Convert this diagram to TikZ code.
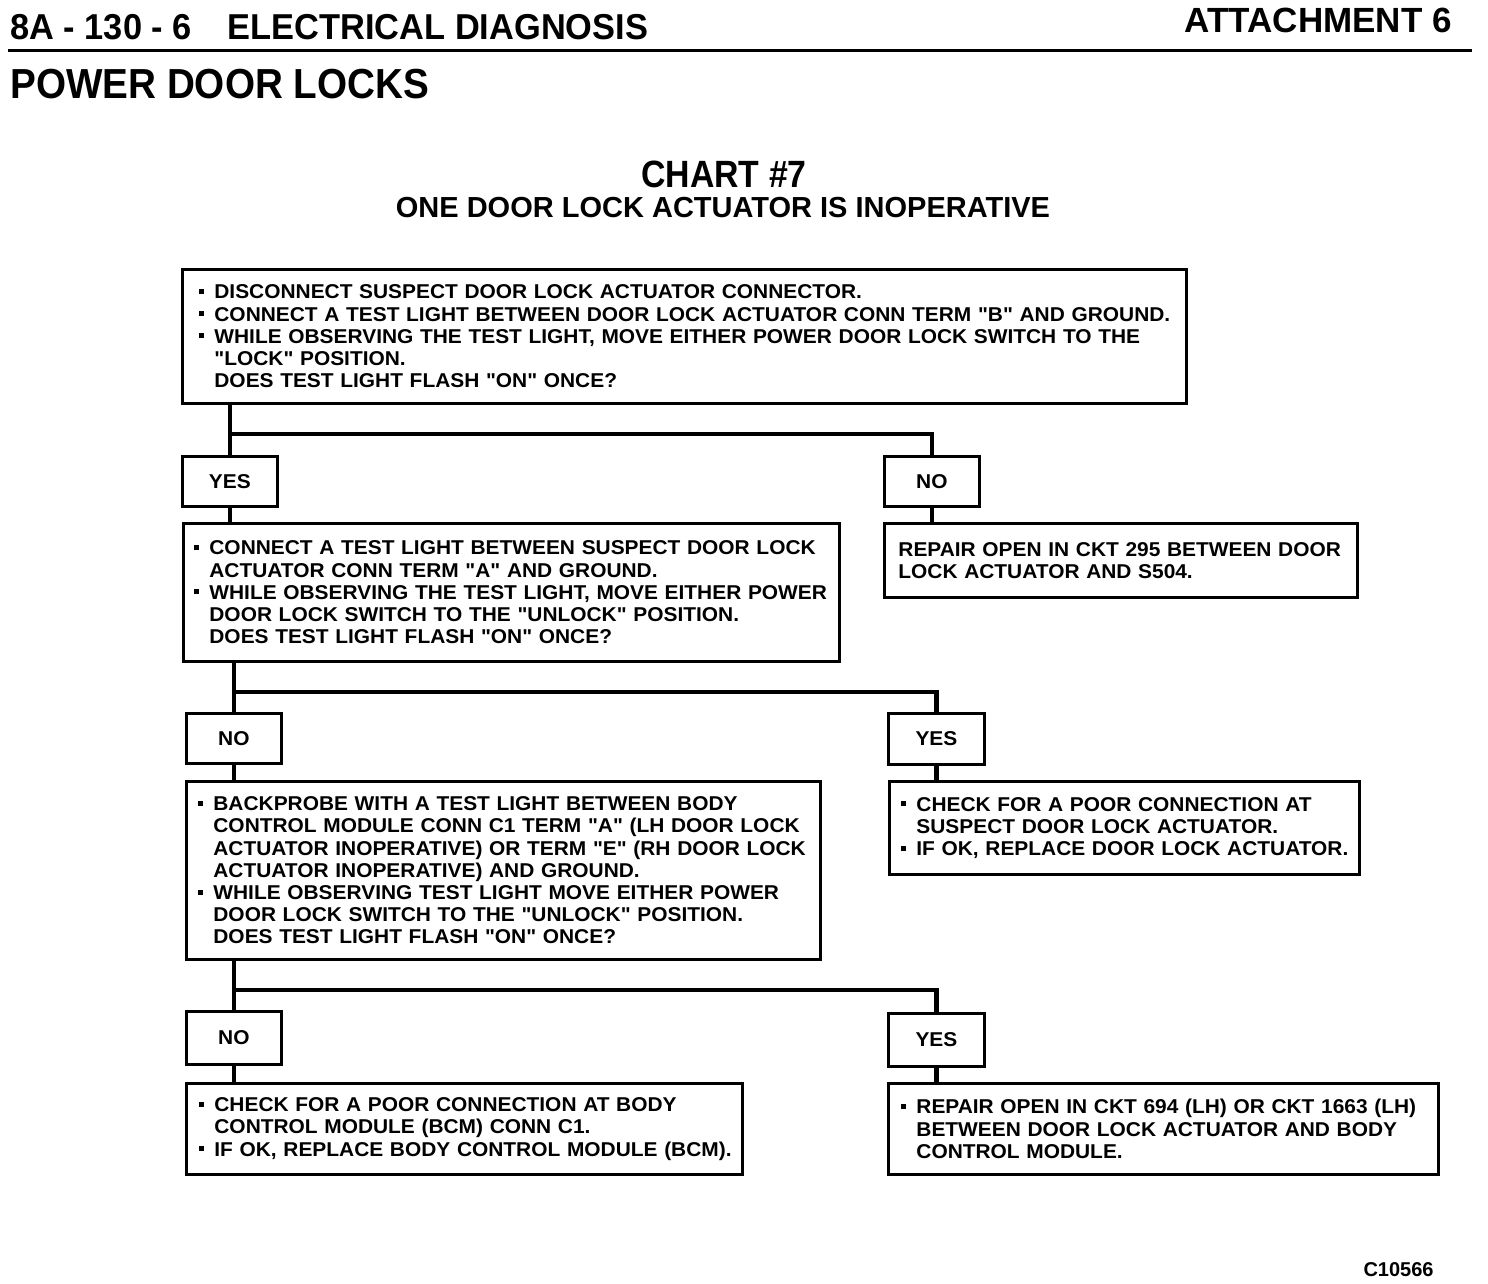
\documentclass[tikz,border=0pt]{standalone}
\usepackage{fontspec}
\setmainfont{Liberation Sans}
\newfontfamily\boxfont{Liberation Sans}[FakeStretch=1.045]
\newfontfamily\hdrfont{Liberation Sans}[FakeStretch=0.955]
\newfontfamily\secfont{Liberation Sans}[FakeStretch=0.92]
\newfontfamily\chartfont{Liberation Sans}[FakeStretch=0.89]
\newcommand\qq{\symbol{34}}
\newcommand\bul{\makebox[7.5pt][l]{\rule[2.4pt]{2.5pt}{2.5pt}}}
\newcommand\ind{\hspace*{7.5pt}}
\newcommand\bli[1]{\mbox{\bul #1}}
\newcommand\ili[1]{\mbox{\ind #1}}
\newcommand\pli[1]{\mbox{#1}}
\tikzset{
  boxtext/.style={font=\boxfont\bfseries\fontsize{10}{11.1}\selectfont},
  flowbox/.style={draw, line width=1.4pt, anchor=north west, inner ysep=0pt, align=left, boxtext},
  answer/.style={draw, line width=1.4pt, anchor=north west, inner sep=0pt, minimum width=47.5pt, minimum height=25pt, boxtext},
  conn/.style={line width=2.4pt},
}
\begin{document}
\begin{tikzpicture}[x=0.5pt,y=-0.5pt]
\useasboundingbox (0,0) rectangle (1488,1284);
% header
\node[anchor=base west, inner sep=0pt, font=\hdrfont\bfseries\fontsize{18}{20}\selectfont] (hdr) at (10,40) {8A - 130 - 6\hspace{1em}ELECTRICAL DIAGNOSIS};
\node[anchor=base east, inner sep=0pt, font=\bfseries\fontsize{17.5}{20}\selectfont] (att) at (1452,33) {ATTACHMENT 6};
\draw[line width=1.5pt] (8,51) -- (1472,51);
\node[anchor=base west, inner sep=0pt, font=\secfont\bfseries\fontsize{21}{24}\selectfont] (sec) at (10,98) {POWER DOOR LOCKS};
\node[anchor=base, inner sep=0pt, font=\chartfont\bfseries\fontsize{19}{22}\selectfont] (chart) at (724,187) {CHART \#7};
\node[anchor=base, inner sep=0pt, font=\bfseries\fontsize{14.5}{17}\selectfont] (sub) at (723,217) {ONE DOOR LOCK ACTUATOR IS INOPERATIVE};

% boxes
\node[flowbox, inner xsep=8.5pt, text width=485pt, minimum height=67pt] (b1) at (181,268) {%
\bli{DISCONNECT SUSPECT DOOR LOCK ACTUATOR CONNECTOR.}\\
\bli{CONNECT A TEST LIGHT BETWEEN DOOR LOCK ACTUATOR CONN TERM \qq B\qq{} AND GROUND.}\\
\bli{WHILE OBSERVING THE TEST LIGHT, MOVE EITHER POWER DOOR LOCK SWITCH TO THE}\\
\ili{\qq LOCK\qq{} POSITION.}\\
\ili{DOES TEST LIGHT FLASH \qq ON\qq{} ONCE?}};

\node[answer] (yes1) at (181,455) {YES};
\node[answer] (no1) at (883,455) {NO};

\node[flowbox, inner xsep=5.5pt, text width=317pt, minimum height=69pt] (b2) at (182,522) {%
\bli{CONNECT A TEST LIGHT BETWEEN SUSPECT DOOR LOCK}\\
\ili{ACTUATOR CONN TERM \qq A\qq{} AND GROUND.}\\
\bli{WHILE OBSERVING THE TEST LIGHT, MOVE EITHER POWER}\\
\ili{DOOR LOCK SWITCH TO THE \qq UNLOCK\qq{} POSITION.}\\
\ili{DOES TEST LIGHT FLASH \qq ON\qq{} ONCE?}};

\node[flowbox, inner xsep=7pt, text width=222.5pt, minimum height=37pt] (r1) at (883,522) {%
\pli{REPAIR OPEN IN CKT 295 BETWEEN DOOR}\\
\pli{LOCK ACTUATOR AND S504.}};

\node[answer] (no2) at (185,712) {NO};
\node[answer, minimum width=48pt, minimum height=25.5pt] (yes2) at (887,712) {YES};

\node[flowbox, inner xsep=6pt, text width=305pt, minimum height=89pt] (b3) at (185,780) {%
\bli{BACKPROBE WITH A TEST LIGHT BETWEEN BODY}\\
\ili{CONTROL MODULE CONN C1 TERM \qq A\qq{} (LH DOOR LOCK}\\
\ili{ACTUATOR INOPERATIVE) OR TERM \qq E\qq{} (RH DOOR LOCK}\\
\ili{ACTUATOR INOPERATIVE) AND GROUND.}\\
\bli{WHILE OBSERVING TEST LIGHT MOVE EITHER POWER}\\
\ili{DOOR LOCK SWITCH TO THE \qq UNLOCK\qq{} POSITION.}\\
\ili{DOES TEST LIGHT FLASH \qq ON\qq{} ONCE?}};

\node[flowbox, inner xsep=6pt, text width=223pt, minimum height=46.5pt] (r2) at (888,780) {%
\bli{CHECK FOR A POOR CONNECTION AT}\\
\ili{SUSPECT DOOR LOCK ACTUATOR.}\\
\bli{IF OK, REPLACE DOOR LOCK ACTUATOR.}};

\node[answer, minimum height=26.5pt] (no3) at (185,1010) {NO};
\node[answer, minimum width=48pt, minimum height=26.5pt] (yes3) at (887,1012) {YES};

\node[flowbox, inner xsep=6.5pt, text width=265pt, minimum height=45.5pt] (b4) at (185,1082) {%
\bli{CHECK FOR A POOR CONNECTION AT BODY}\\
\ili{CONTROL MODULE (BCM) CONN C1.}\\
\bli{IF OK, REPLACE BODY CONTROL MODULE (BCM).}};

\node[flowbox, inner xsep=6.5pt, text width=262pt, minimum height=45.5pt] (b5) at (887,1082) {%
\bli{REPAIR OPEN IN CKT 694 (LH) OR CKT 1663 (LH)}\\
\ili{BETWEEN DOOR LOCK ACTUATOR AND BODY}\\
\ili{CONTROL MODULE.}};

\node[anchor=base east, inner sep=0pt, font=\bfseries\fontsize{10}{12}\selectfont] (code) at (1434,1276) {C10566};

% connectors
\coordinate (j1) at (0,434);
\coordinate (j2) at (0,692);
\coordinate (j3) at (0,990);
\draw[conn] (b1.south -| yes1.north) -- (yes1.north);
\draw[conn] (yes1.north |- j1) -| (no1.north);
\draw[conn] (yes1.south) -- (yes1.south |- b2.north);
\draw[conn] (no1.south) -- (no1.south |- r1.north);

\draw[conn] (b2.south -| no2.north) -- (no2.north);
\draw[conn] (no2.north |- j2) -| (yes2.north);
\draw[conn] (no2.south) -- (no2.south |- b3.north);
\draw[conn] (yes2.south) -- (yes2.south |- r2.north);

\draw[conn] (b3.south -| no3.north) -- (no3.north);
\draw[conn] (no3.north |- j3) -| (yes3.north);
\draw[conn] (no3.south) -- (no3.south |- b4.north);
\draw[conn] (yes3.south) -- (yes3.south |- b5.north);
\end{tikzpicture}
\end{document}
